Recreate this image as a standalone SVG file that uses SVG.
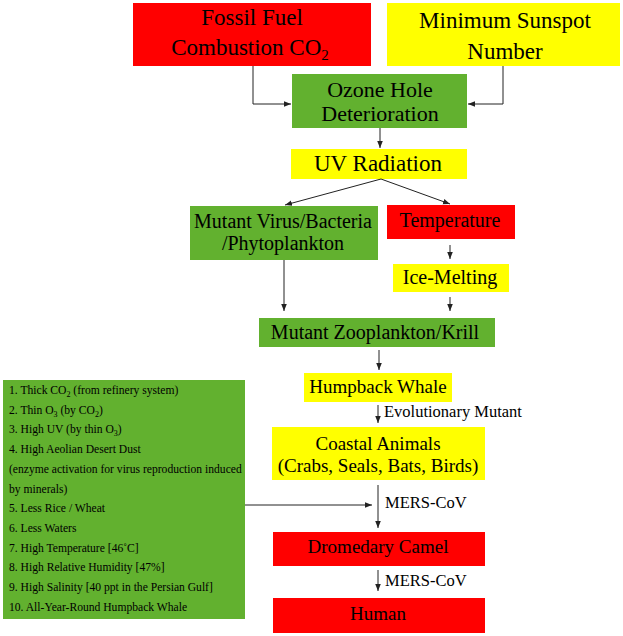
<svg xmlns="http://www.w3.org/2000/svg" width="623" height="636" viewBox="0 0 623 636">
<defs>
<marker id="ah" viewBox="0 0 10 10" refX="10" refY="5" markerWidth="7" markerHeight="7" markerUnits="userSpaceOnUse" orient="auto">
<path d="M0,1 L10,5 L0,9 z" fill="#222"/>
</marker>
<style>
text{fill:#000}
.red{fill:#ff0000}
.yel{fill:#ffff00}
.grn{fill:#62b12f}
.t23{font-size:23px;text-anchor:middle}
.t22{font-size:22px;text-anchor:middle}
.t20{font-size:20px;text-anchor:middle}
.t19{font-size:19px;text-anchor:middle}
.lbl{font-size:16.5px}
.lst{font-size:11.6px}
.c{fill:none;stroke:#222;stroke-width:1;marker-end:url(#ah)}
</style>
</defs>
<rect width="623" height="636" fill="#fff"/>
<g font-family="Liberation Serif, DejaVu Serif, serif">
<g id="fossil">
<rect class="red" x="133" y="3" width="238" height="63"/>
<text class="t23" x="252" y="25">Fossil Fuel</text>
<text class="t23" x="250" y="55">Combustion CO<tspan font-size="15" dy="5">2</tspan></text>
</g>
<g id="sunspot">
<rect class="yel" x="387" y="3" width="233" height="63"/>
<text class="t23" x="505" y="28">Minimum Sunspot</text>
<text class="t23" x="505" y="59">Number</text>
</g>
<g id="ozone">
<rect class="grn" x="292" y="74" width="175" height="54"/>
<text class="t22" x="380" y="97">Ozone Hole</text>
<text class="t22" x="380" y="120.5">Deterioration</text>
</g>
<g id="uv">
<rect class="yel" x="291" y="149" width="176" height="30"/>
<text class="t23" x="378" y="171">UV Radiation</text>
</g>
<g id="virus">
<rect class="grn" x="190" y="206" width="188" height="54"/>
<text class="t20" x="283" y="228">Mutant Virus/Bacteria</text>
<text class="t20" x="283" y="250">/Phytoplankton</text>
</g>
<g id="temperature">
<rect class="red" x="387" y="205" width="128" height="34"/>
<text class="t20" x="450" y="227">Temperature</text>
</g>
<g id="ice">
<rect class="yel" x="393" y="264" width="116" height="28"/>
<text class="t20" x="450" y="284">Ice-Melting</text>
</g>
<g id="zooplankton">
<rect class="grn" x="259" y="318" width="236" height="29"/>
<text class="t20" x="375" y="339">Mutant Zooplankton/Krill</text>
</g>
<g id="humpback">
<rect class="yel" x="304" y="373" width="148" height="29"/>
<text class="t19" x="378" y="393">Humpback Whale</text>
</g>
<g id="coastal">
<rect class="yel" x="272" y="427" width="213" height="53"/>
<text class="t19" x="378" y="450">Coastal Animals</text>
<text class="t19" x="378" y="472">(Crabs, Seals, Bats, Birds)</text>
</g>
<g id="camel">
<rect class="red" x="273" y="532" width="212" height="34"/>
<text class="t19" x="378" y="553">Dromedary Camel</text>
</g>
<g id="human">
<rect class="red" x="273" y="598" width="212" height="35"/>
<text class="t19" x="378" y="620">Human</text>
</g>
<g id="factors">
<rect class="grn" x="3" y="380" width="242" height="239"/>
<text class="lst" x="9" y="394">1. Thick CO<tspan font-size="8" dy="3">2</tspan><tspan dy="-3"> (from refinery system)</tspan></text>
<text class="lst" x="9" y="413.7">2. Thin O<tspan font-size="8" dy="3">3</tspan><tspan dy="-3"> (by CO</tspan><tspan font-size="8" dy="3">2</tspan><tspan dy="-3">)</tspan></text>
<text class="lst" x="9" y="433.4">3. High UV (by thin O<tspan font-size="8" dy="3">3</tspan><tspan dy="-3">)</tspan></text>
<text class="lst" x="9" y="453.1">4. High Aeolian Desert Dust</text>
<text class="lst" x="9" y="472.8">(enzyme activation for virus reproduction induced</text>
<text class="lst" x="9" y="492.5">by minerals)</text>
<text class="lst" x="9" y="512.2">5. Less Rice / Wheat</text>
<text class="lst" x="9" y="531.9">6. Less Waters</text>
<text class="lst" x="9" y="551.6">7. High Temperature [46˚C]</text>
<text class="lst" x="9" y="571.3">8. High Relative Humidity [47%]</text>
<text class="lst" x="9" y="591">9. High Salinity [40 ppt in the Persian Gulf]</text>
<text class="lst" x="9" y="610.7">10. All-Year-Round Humpback Whale</text>
</g>
<g id="connectors">
<path class="c" d="M253,66 V104 H291"/>
<path class="c" d="M503,66 V104 H468"/>
<path class="c" d="M380,128 V148"/>
<path class="c" d="M381,179 L285,205"/>
<path class="c" d="M381,179 L450,204"/>
<path class="c" d="M450,245 V259"/>
<path class="c" d="M450,297 V311"/>
<path class="c" d="M284,260 V311"/>
<path class="c" d="M379,350 V370"/>
<path class="c" d="M378,405 V423"/>
<path class="c" d="M378,485 V528"/>
<path class="c" d="M245,505 H372"/>
<path class="c" d="M378,570 V591"/>
<text class="lbl" x="384" y="417">Evolutionary Mutant</text>
<text class="lbl" x="385" y="508">MERS-CoV</text>
<text class="lbl" x="385" y="586">MERS-CoV</text>
</g>
</g>
</svg>
